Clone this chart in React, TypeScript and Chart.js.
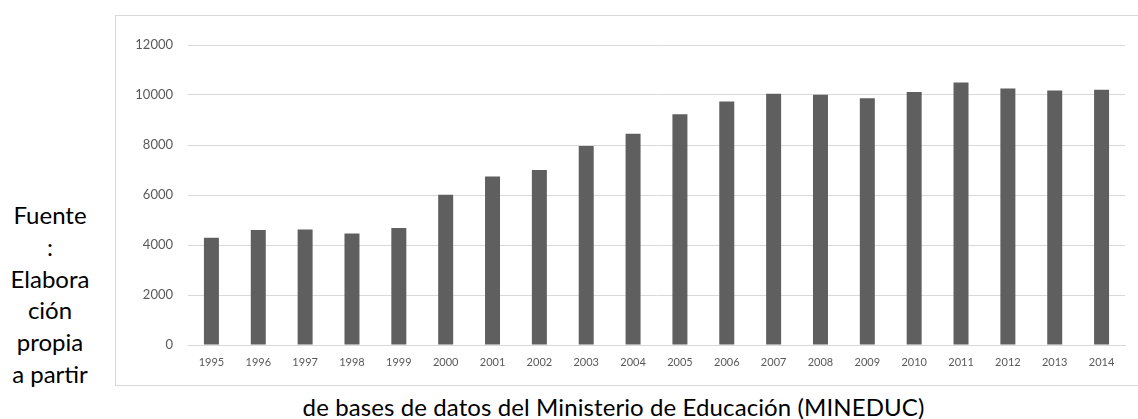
import React, { useEffect, useRef } from "react";
import { Chart, registerables } from "chart.js";

Chart.register(...registerables);

const years = ["1995","1996","1997","1998","1999","2000","2001","2002","2003","2004","2005","2006","2007","2008","2009","2010","2011","2012","2013","2014"];
const values = [4290, 4600, 4620, 4460, 4680, 6010, 6740, 7000, 7960, 8450, 9230, 9745, 10050, 10010, 9875, 10120, 10500, 10265, 10180, 10215];
const yTicks = [0, 2000, 4000, 6000, 8000, 10000, 12000];
const sideLines = ["Fuente", ":", "Elabora", "ción", "propia", "a partir"];
const bottomText = "de bases de datos del Ministerio de Educación (MINEDUC)";

const FONT = "Lato, 'Liberation Sans', sans-serif";

export default function App() {
  const ref = useRef<HTMLCanvasElement | null>(null);

  useEffect(() => {
    const prevMargin = document.body.style.margin;
    document.body.style.margin = "0";
    if (!ref.current) return;
    const chart = new Chart(ref.current, {
      type: "bar",
      data: {
        labels: years,
        datasets: [
          {
            data: values,
            backgroundColor: "#5f5f5f",
            borderWidth: 0,
            barPercentage: 0.32,
            categoryPercentage: 1,
          },
        ],
      },
      options: {
        animation: false,
        responsive: false,
        maintainAspectRatio: false,
        layout: { padding: { left: 0, right: 13, top: 29, bottom: 0 } },
        plugins: { legend: { display: false }, tooltip: { enabled: false }, title: { display: false } },
        scales: {
          x: {
            grid: { display: false, drawTicks: false },
            border: { display: true, color: "#d9d9d9", width: 1 },
            ticks: { color: "#595959", font: { family: FONT, size: 11 }, padding: 11, maxRotation: 0, autoSkip: false },
            afterFit: (s: any) => { s.height = 41; },
          },
          y: {
            min: 0,
            max: 12000,
            afterBuildTicks: (s: any) => { s.ticks = yTicks.map((v) => ({ value: v })); },
            grid: { color: "#d9d9d9", lineWidth: 1, drawTicks: false },
            border: { display: false },
            ticks: { color: "#595959", font: { family: FONT, size: 13 }, padding: 15, callback: (v: any) => String(v) },
            afterFit: (s: any) => { s.width = 72; },
          },
        },
      },
    });
    return () => {
      chart.destroy();
      document.body.style.margin = prevMargin;
    };
  }, []);

  return (
    <div style={{ position: "absolute", left: 0, top: 0, width: 1138, height: 419, background: "#fff", overflow: "hidden", fontFamily: FONT }}>
      <div style={{ position: "absolute", left: 115, top: 15, width: 1040, height: 371, border: "1px solid #d9d9d9", boxSizing: "border-box" }} />
      <canvas ref={ref} width={1022} height={370} style={{ position: "absolute", left: 116, top: 16, width: 1022, height: 370 }} />
      <div style={{ position: "absolute", left: 0, top: 199, width: 100, textAlign: "center", fontSize: 24, lineHeight: "31.8px", color: "#000" }}>
        {sideLines.map((l, i) => (
          <div key={i}>{l}</div>
        ))}
      </div>
      <div style={{ position: "absolute", left: 0, top: 394, width: 1227, textAlign: "center", fontSize: 24, lineHeight: "26px", color: "#000", whiteSpace: "nowrap", letterSpacing: "0.1px" }}>
        {bottomText}
      </div>
    </div>
  );
}
